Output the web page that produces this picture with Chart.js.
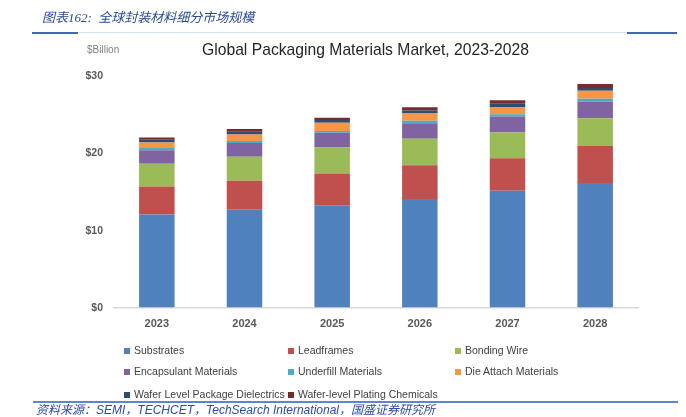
<!DOCTYPE html>
<html>
<head>
<meta charset="utf-8">
<script src="https://cdn.jsdelivr.net/npm/chart.js@4"></script>
<style>
  html, body { margin:0; padding:0; background:#fff; }
  #wrap { position:relative; width:686px; height:417px; overflow:hidden; font-family:"Liberation Sans", Arial, sans-serif; }
  #c { position:absolute; left:0; top:0; }
  .abs { position:absolute; white-space:nowrap; }
  #hdr { left:42px; top:9px; font-size:13px; line-height:18px; color:#2A4B96; font-style:italic; font-family:"Liberation Serif","Noto Sans CJK SC",serif; }
  #line1 { left:33px; top:32px; width:645px; height:1px; background:#D6E0EE; }
  #seg1 { left:32px; top:32px; width:46px; height:2px; background:#3F6AAE; }
  #seg2 { left:627px; top:32px; width:50px; height:2px; background:#3F6AAE; }
  #unit { left:87px; top:43px; font-size:10px; line-height:14px; color:#7F7F7F; }
  #title { left:202px; top:40px; font-size:15.7px; line-height:20px; color:#262626; }
  #legend .item { position:absolute; font-size:10.5px; line-height:14px; color:#404040; white-space:nowrap; }
  #legend .box { display:inline-block; width:6px; height:6px; margin-right:4px; vertical-align:0px; }
  #line2 { left:33px; top:401px; width:645px; height:1.5px; background:#5B88C6; }
  #src { left:36px; top:402px; font-size:12px; line-height:16px; color:#2A4BB0; font-style:italic; font-family:"Liberation Sans","Noto Sans CJK SC",sans-serif; }
</style>
</head>
<body>
<div id="wrap">
  <canvas id="c" width="686" height="417"></canvas>
  <div class="abs" id="hdr">图表162:&nbsp;&nbsp;全球封装材料细分市场规模</div>
  <div class="abs" id="line1"></div>
  <div class="abs" id="seg1"></div>
  <div class="abs" id="seg2"></div>
  <div class="abs" id="unit">$Billion</div>
  <div class="abs" id="title">Global Packaging Materials Market, 2023-2028</div>
  <div id="legend"></div>
  <div class="abs" id="line2"></div>
  <div class="abs" id="src">资料来源：SEMI，TECHCET，TechSearch International，国盛证券研究所</div>
</div>
<script>
const years = ['2023','2024','2025','2026','2027','2028'];
const yTicks = [0, 10, 20, 30];
const seriesNames = ['Substrates','Leadframes','Bonding Wire','Encapsulant Materials','Underfill Materials','Die Attach Materials','Wafer Level Package Dielectrics','Wafer-level Plating Chemicals'];
const substrates     = [12.1, 12.7, 13.3, 14.1, 15.15, 16.15];
const leadframes     = [3.6, 3.75, 4.1, 4.35, 4.2, 4.8];
const bondingWire    = [2.95, 3.1, 3.35, 3.45, 3.35, 3.6];
const encapsulant    = [1.75, 1.8, 1.9, 2.0, 2.05, 2.15];
const underfill      = [0.3, 0.25, 0.25, 0.3, 0.3, 0.35];
const dieAttach      = [0.7, 0.85, 1.05, 0.95, 0.95, 1.05];
const wlpDielectrics = [0.35, 0.35, 0.35, 0.4, 0.4, 0.35];
const wlPlating      = [0.3, 0.35, 0.3, 0.4, 0.45, 0.5];
const seriesColors = ['#4F81BD','#C0504D','#9BBB59','#8064A2','#4BACC6','#F79646','#2C4D75','#772C2A'];

const allSeries = [substrates, leadframes, bondingWire, encapsulant, underfill, dieAttach, wlpDielectrics, wlPlating];
const datasets = allSeries.map((d, i) => ({
  label: seriesNames[i],
  data: d,
  backgroundColor: seriesColors[i],
  borderWidth: 0,
  categoryPercentage: 1.0,
  barPercentage: 0.405
}));

const chart = new Chart(document.getElementById('c'), {
  type: 'bar',
  data: { labels: years, datasets },
  options: {
    responsive: false,
    animation: false,
    layout: { padding: { top: 76, bottom: 89, left: 73, right: 47 } },
    plugins: { legend: { display: false }, title: { display: false }, tooltip: { enabled: false } },
    scales: {
      x: {
        stacked: true,
        grid: { display: false, drawTicks: false },
        border: { display: false },
        ticks: { padding: 9, color: '#595959', font: { family: 'Liberation Sans', size: 11, weight: 'bold' } },
        afterFit: s => { s.height = 20; }
      },
      y: {
        stacked: true,
        min: 0, max: 30,
        afterBuildTicks: s => { s.ticks = yTicks.map(v => ({ value: v })); },
        grid: {
          drawTicks: false,
          color: ctx => ctx.tick && ctx.tick.value === 0 ? '#D9D9D9' : 'rgba(0,0,0,0)',
          lineWidth: 1.5
        },
        border: { display: false },
        ticks: { padding: 10, color: '#595959', font: { family: 'Liberation Sans', size: 10.5, weight: 'bold' }, callback: v => '$' + v },
        afterFit: s => { s.width = 40; }
      }
    }
  }
});

// HTML legend built from the chart's own legend items
const items = Chart.defaults.plugins.legend.labels.generateLabels(chart);
const colX = [124, 288, 455];
const rowY = [343, 364, 387];
const leg = document.getElementById('legend');
items.forEach((it, i) => {
  const el = document.createElement('div');
  el.className = 'item';
  el.style.left = colX[i % 3] + 'px';
  el.style.top = rowY[Math.floor(i / 3)] + 'px';
  const b = document.createElement('span');
  b.className = 'box';
  b.style.background = it.fillStyle;
  el.appendChild(b);
  el.appendChild(document.createTextNode(it.text));
  leg.appendChild(el);
});
</script>
</body>
</html>
